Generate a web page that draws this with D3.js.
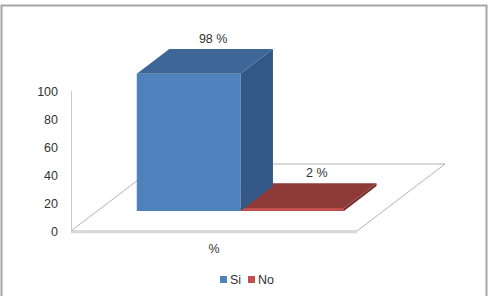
<!DOCTYPE html>
<html>
<head>
<meta charset="utf-8">
<script src="https://cdn.jsdelivr.net/npm/d3@7"></script>
<style>
  body { margin: 0; background: #fff; }
  text { font-family: "Liberation Sans", Arial, sans-serif; fill: #333; }
</style>
</head>
<body>
<svg id="chart" width="492" height="296"></svg>
<script>
"use strict";

var categories = ["%"];
var series = ["Si", "No"];
var values = [98, 2];
var labels = ["98 %", "2 %"];
var yTicks = [0, 20, 40, 60, 80, 100];

var frontColors = ["#4f81bd", "#c0504d"];
var topColors = ["#3e6798", "#8d3937"];
var sideColors = ["#335786", "#7a2f2d"];

var svg = d3.select("#chart");

// outer frame
svg.append("rect")
  .attr("x", 1.5).attr("y", 5.5)
  .attr("width", 485).attr("height", 300)
  .attr("fill", "#fff")
  .attr("stroke", "#a6a6a6")
  .attr("stroke-width", 2);

// front plane scales
var y = d3.scaleLinear().domain([0, 100]).range([231, 91]);
var x0 = d3.scaleBand().domain(categories).range([71, 357])
  .paddingInner(0).paddingOuter(0.19);
var x1 = d3.scaleBand().domain(series).range([0, x0.bandwidth()]);

// oblique depth: d in [0,1] of floor depth
var depthX = 88, depthY = 67;
function proj(xs, d, v) {
  return [xs + d * depthX, y(v) - d * depthY];
}
var d0 = 0.30, d1 = 0.67;

// floor
var fl = [proj(71, 0, 0), proj(357, 0, 0), proj(357, 1, 0), proj(71, 1, 0)];
svg.append("path")
  .attr("d", "M" + fl.join("L") + "Z")
  .attr("fill", "#fff")
  .attr("stroke", "#b3b3b3")
  .attr("stroke-width", 1);
// front floor edge shadow
svg.append("line")
  .attr("x1", 71).attr("x2", 357)
  .attr("y1", y(0) + 1.5).attr("y2", y(0) + 1.5)
  .attr("stroke", "#d9d9d9").attr("stroke-width", 1.5);

// vertical axis
svg.append("line")
  .attr("x1", 71.5).attr("x2", 71.5)
  .attr("y1", y(100)).attr("y2", y(0))
  .attr("stroke", "#c8c8c8");

svg.selectAll(".ytick")
  .data(yTicks)
  .enter().append("text")
    .attr("class", "ytick")
    .attr("x", 58)
    .attr("y", function(d) { return y(d); })
    .attr("dy", "0.36em")
    .attr("text-anchor", "end")
    .style("font-size", "12.5px")
    .text(function(d) { return d; });

var bars = series.map(function(s, i) {
  return { name: s, value: values[i], label: labels[i], i: i,
           xl: x0(categories[0]) + x1(s), xr: x0(categories[0]) + x1(s) + x1.bandwidth() };
});

function poly(pts) { return "M" + pts.join("L") + "Z"; }

// draw right bar first so left bar's side overlaps properly
bars.slice().reverse().forEach(function(b) {
  var g = svg.append("g");
  var fbl = proj(b.xl, d0, 0), fbr = proj(b.xr, d0, 0),
      ftl = proj(b.xl, d0, b.value), ftr = proj(b.xr, d0, b.value),
      bbr = proj(b.xr, d1, 0), btl = proj(b.xl, d1, b.value), btr = proj(b.xr, d1, b.value);
  g.append("path").attr("d", poly([fbr, bbr, btr, ftr])).attr("fill", sideColors[b.i]);
  g.append("path").attr("d", poly([ftl, ftr, btr, btl])).attr("fill", topColors[b.i]);
  g.append("path").attr("d", poly([fbl, fbr, ftr, ftl])).attr("fill", frontColors[b.i]);
});

// data labels
svg.selectAll(".dlabel")
  .data(bars)
  .enter().append("text")
    .attr("class", "dlabel")
    .attr("x", function(d) { return proj((d.xl + d.xr) / 2, d1, d.value)[0] - 8; })
    .attr("y", function(d) { return proj((d.xl + d.xr) / 2, d1, d.value)[1] - 6; })
    .attr("text-anchor", "middle")
    .style("font-size", "12.5px")
    .text(function(d) { return d.label; });

// category label
svg.append("text")
  .attr("x", x0(categories[0]) + x0.bandwidth() / 2)
  .attr("y", 253)
  .attr("text-anchor", "middle")
  .style("font-size", "12.5px")
  .text(categories[0]);

// legend
var legend = svg.append("g").attr("transform", "translate(220,276)");
var lx = [0, 28];
series.forEach(function(s, i) {
  legend.append("rect")
    .attr("x", lx[i]).attr("y", 0)
    .attr("width", 7).attr("height", 7)
    .attr("fill", frontColors[i]);
  legend.append("text")
    .attr("x", lx[i] + 10).attr("y", 8)
    .style("font-size", "12.5px")
    .text(s);
});
</script>
</body>
</html>
